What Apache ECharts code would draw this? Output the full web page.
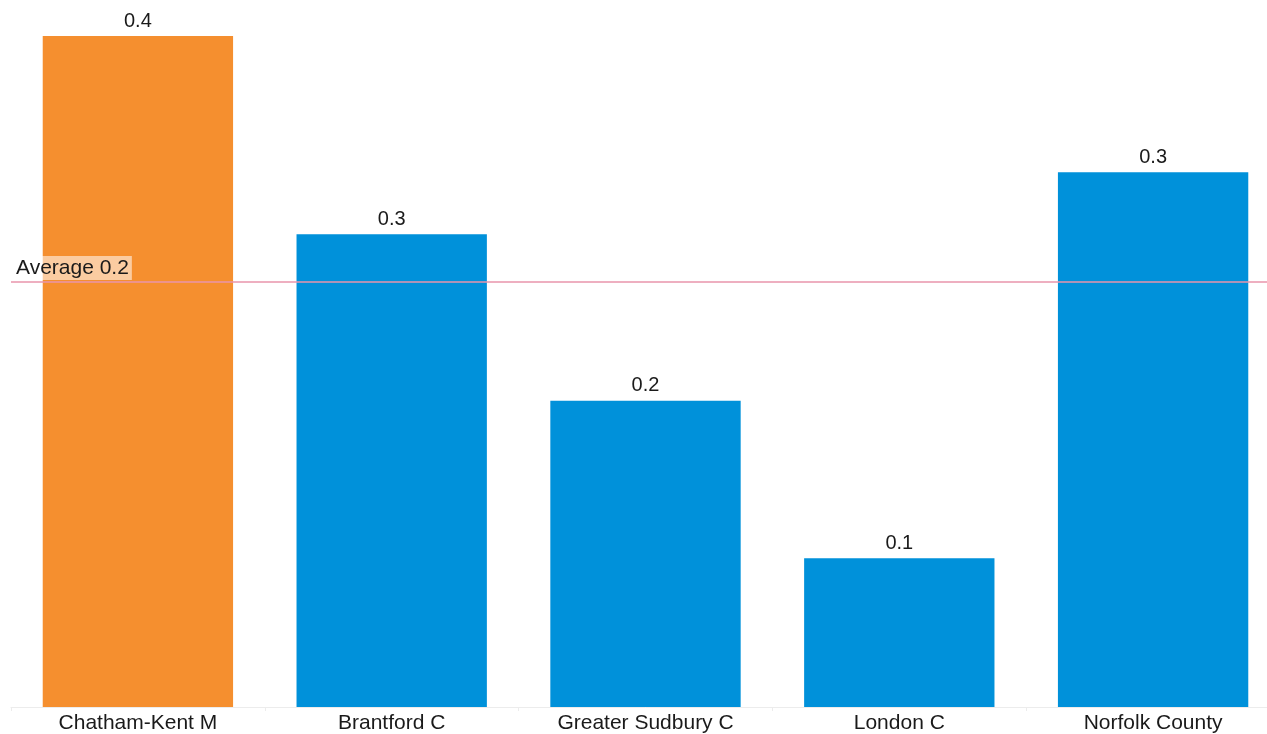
<!DOCTYPE html>
<html>
<head>
<meta charset="utf-8">
<style>
  html, body { margin: 0; padding: 0; background: #ffffff; overflow: hidden; }
  /* the plot runs a little past the right edge of the window */
  #chart { width: 1280px; height: 734px; }
</style>
<script src="https://cdn.jsdelivr.net/npm/echarts@6/dist/echarts.min.js"></script>
</head>
<body>
<div id="chart"></div>
<script>
// Municipalities compared
const categories = ['Chatham-Kent M', 'Brantford C', 'Greater Sudbury C', 'London C', 'Norfolk County'];
// Rate per municipality
const values = [0.379, 0.267, 0.173, 0.084, 0.302];
// Highlighted municipality
const highlight = 'Chatham-Kent M';

const ORANGE = '#F58F2F';
const BLUE = '#0091DA';
const FONT = 'Liberation Sans, Arial, sans-serif';

const average = values.reduce((a, b) => a + b, 0) / values.length;

const chart = echarts.init(document.getElementById('chart'), null, { renderer: 'canvas' });

chart.setOption({
  animation: false,
  backgroundColor: '#ffffff',
  grid: { left: 11, right: 0, top: 36, bottom: 27, containLabel: false },
  xAxis: {
    type: 'category',
    data: categories,
    axisLine: { show: true, lineStyle: { color: '#ececec', width: 1 } },
    axisTick: { show: true, length: 4, lineStyle: { color: '#ececec' } },
    axisLabel: { color: '#1a1a1a', fontSize: 21, fontFamily: FONT, margin: 6 }
  },
  yAxis: {
    type: 'value',
    min: 0,
    max: 'dataMax',
    show: false,
    splitLine: { show: false }
  },
  series: [{
    type: 'bar',
    barWidth: '75%',
    data: values.map((v, i) => ({
      value: v,
      itemStyle: { color: categories[i] === highlight ? ORANGE : BLUE }
    })),
    label: {
      show: true,
      position: 'top',
      distance: 5,
      color: '#1a1a1a',
      fontSize: 20,
      fontFamily: FONT,
      formatter: p => p.value.toFixed(1)
    },
    markLine: {
      silent: true,
      symbol: 'none',
      z: 5,
      lineStyle: { color: '#E995AB', type: 'solid', width: 1.5 },
      label: {
        show: true,
        position: 'insideStartTop',
        distance: [4, 2],
        formatter: 'Average ' + average.toFixed(1),
        color: '#1a1a1a',
        fontSize: 21,
        fontFamily: FONT,
        backgroundColor: 'rgba(255,255,255,0.55)',
        padding: [2, 3, 1, 1]
      },
      data: [{ yAxis: average }]
    }
  }]
});
</script>
</body>
</html>
